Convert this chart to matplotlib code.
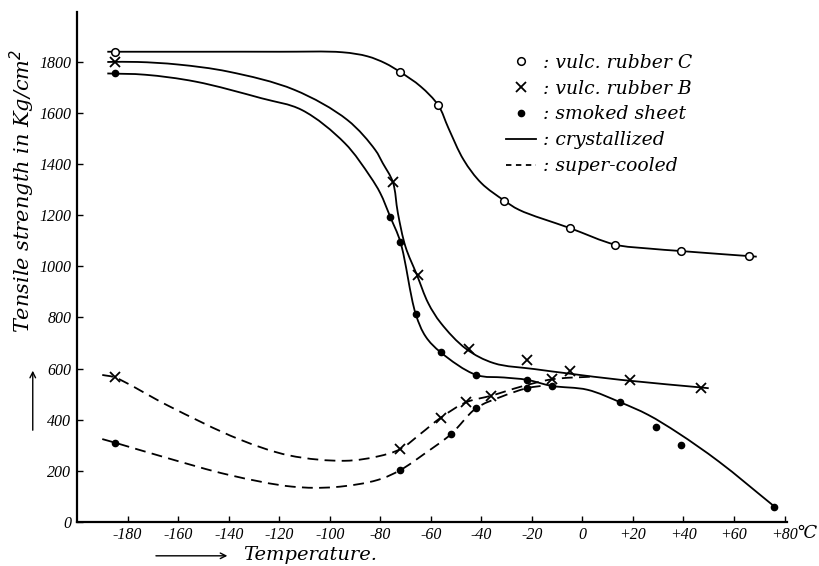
import matplotlib
matplotlib.use("Agg")
import matplotlib.pyplot as plt
import numpy as np
from matplotlib.lines import Line2D
from matplotlib.path import Path
from matplotlib.patches import PathPatch, FancyArrowPatch

# measured points (temperature in C, tensile strength in kg/cm2)
c_t = [-185, -72, -57, -31, -5, 13, 39, 66]
c_v = [1840, 1760, 1630, 1255, 1150, 1085, 1060, 1040]

b_t = [-185, -75, -65, -45, -22, -5, 19, 47]
b_v = [1800, 1330, 965, 675, 635, 590, 555, 525]

s_t = [-185, -76, -72, -66, -56, -42, -22, -12, 15, 29, 39, 76]
s_v = [1755, 1195, 1095, 815, 663, 575, 556, 532, 468, 373, 299, 60]

b_sc_t = [-185, -72, -56, -46, -36, -12]
b_sc_v = [565, 285, 408, 470, 493, 558]

s_sc_t = [-185, -72, -52, -42, -22]
s_sc_v = [310, 203, 343, 445, 523]

# hand drawn curves
c_line_t = [-188, -150, -120, -95, -85, -78, -72, -64, -57, -53, -47, -40, -31, -25, -5, 13, 26, 39, 55, 69]
c_line_v = [1840, 1840, 1840, 1838, 1822, 1795, 1760, 1704, 1630, 1541, 1417, 1326, 1258, 1221, 1150, 1085, 1070, 1060, 1048, 1038]

b_line_t = [-188, -176, -160, -140, -114, -93, -82, -79, -75, -73, -70, -65.5, -61, -56, -46, -35, -19, -5, 15, 47, 50]
b_line_v = [1800, 1800, 1790, 1762, 1691, 1573, 1456, 1404, 1330, 1208, 1077, 967, 856, 778, 677, 621, 598, 580, 556, 526, 523]

s_line_t = [-188, -173, -153, -127, -111, -94, -84, -80, -76, -72, -66, -62, -56, -42, -31, -22, -12, 2, 15, 26, 38, 54, 76]
s_line_v = [1755, 1750, 1723, 1658, 1612, 1482, 1352, 1287, 1193, 1095, 815, 725, 663, 575, 565, 556, 532, 517, 468, 419, 347, 236, 60]

b_sc_line_t = [-190, -185, -164, -136, -116, -94, -81, -72, -64, -56, -46, -36, -24, -12, 5]
b_sc_line_v = [575, 565, 455, 324, 260, 239, 256, 285, 345, 408, 468, 494, 530, 558, 569]

s_sc_line_t = [-190, -185, -164, -140, -115, -98, -81, -72, -62, -52, -42, -32, -22, -14]
s_sc_line_v = [324, 310, 249, 184, 138, 136, 164, 203, 270, 343, 445, 490, 523, 535]

x_ticks = [-180, -160, -140, -120, -100, -80, -60, -40, -20, 0, 20, 40, 60, 80]
x_labels = ['-180', '-160', '-140', '-120', '-100', '-80', '-60', '-40', '-20', '0', '+20', '+40', '+60', '+80']
y_ticks = [0, 200, 400, 600, 800, 1000, 1200, 1400, 1600, 1800]

# rough pixels per unit, only used to space the spline knots evenly on screen
SX, SY = 2.53, 0.2555


def smooth_path(t, v):
    # centripetal catmull-rom through the read points, as bezier segments
    p = np.column_stack([np.asarray(t, float) * SX, np.asarray(v, float) * SY])
    p = np.vstack([2 * p[0] - p[1], p, 2 * p[-1] - p[-2]])
    verts = [p[1]]
    codes = [Path.MOVETO]
    for i in range(1, len(p) - 2):
        p0, p1, p2, p3 = p[i - 1], p[i], p[i + 1], p[i + 2]
        d1 = np.linalg.norm(p1 - p0) ** 0.5
        d2 = np.linalg.norm(p2 - p1) ** 0.5
        d3 = np.linalg.norm(p3 - p2) ** 0.5
        b1 = (d1 ** 2 * p2 - d2 ** 2 * p0 + (2 * d1 ** 2 + 3 * d1 * d2 + d2 ** 2) * p1) / (3 * d1 * (d1 + d2))
        b2 = (d3 ** 2 * p1 - d2 ** 2 * p3 + (2 * d3 ** 2 + 3 * d3 * d2 + d2 ** 2) * p2) / (3 * d3 * (d3 + d2))
        verts += [b1, b2, p2]
        codes += [Path.CURVE4] * 3
    verts = np.array(verts) / [SX, SY]
    return Path(verts, codes)


plt.rcParams['font.family'] = ['Liberation Serif', 'DejaVu Serif']
plt.rcParams['font.style'] = 'italic'
label_font = ['DejaVu Serif']

fig = plt.figure(figsize=(8.19, 5.66), dpi=100)
ax = fig.add_axes([0.094, 0.078, 0.867, 0.901])

lw = 1.3
dash = (6, 3.5)
for t, v in [(c_line_t, c_line_v), (b_line_t, b_line_v), (s_line_t, s_line_v)]:
    ax.add_patch(PathPatch(smooth_path(t, v), fill=False, ec='black', lw=lw))
for t, v in [(b_sc_line_t, b_sc_line_v), (s_sc_line_t, s_sc_line_v)]:
    ax.add_patch(PathPatch(smooth_path(t, v), fill=False, ec='black', lw=lw, ls=(0, dash)))

ax.plot(c_t, c_v, 'o', ls='none', mfc='white', mec='black', ms=5.5, mew=1.1)
ax.plot(b_t, b_v, 'x', ls='none', color='black', ms=7, mew=1.3)
ax.plot(s_t, s_v, 'o', ls='none', color='black', ms=4.5)
ax.plot(b_sc_t, b_sc_v, 'x', ls='none', color='black', ms=7, mew=1.3)
ax.plot(s_sc_t, s_sc_v, 'o', ls='none', color='black', ms=4.5)

ax.set_xlim(-200, 81)
ax.set_ylim(0, 1996)
ax.spines['top'].set_visible(False)
ax.spines['right'].set_visible(False)
ax.spines['left'].set_linewidth(1.6)
ax.spines['bottom'].set_linewidth(1.6)
ax.set_xticks(x_ticks)
ax.set_xticklabels(x_labels)
ax.set_yticks(y_ticks)
ax.tick_params(direction='in', length=4, width=1, labelsize=11.5, pad=4)

ax.set_ylabel('Tensile strength in Kg/cm$^2$', fontsize=15, family=label_font)
ax.yaxis.set_label_coords(-0.056, 0.65)
fig.text(0.984, 0.057, '\u2103', fontsize=13, ha='center', va='center')
fig.text(0.297, 0.004, 'Temperature.', fontsize=14, ha='left', va='bottom', family=label_font)
fig.add_artist(FancyArrowPatch((0.187, 0.018), (0.281, 0.018), transform=fig.transFigure,
                               arrowstyle='->', mutation_scale=10, color='black', lw=1))
fig.add_artist(FancyArrowPatch((0.040, 0.235), (0.040, 0.350), transform=fig.transFigure,
                               arrowstyle='->', mutation_scale=10, color='black', lw=1))

handles = [
    Line2D([], [], ls='none', marker='o', mfc='white', mec='black', ms=5.5, mew=1.1),
    Line2D([], [], ls='none', marker='x', color='black', ms=7, mew=1.3),
    Line2D([], [], ls='none', marker='o', color='black', ms=4.5),
    Line2D([], [], color='black', lw=lw),
    Line2D([], [], color='black', lw=lw, dashes=(3, 2.5)),
]
labels = [': vulc. rubber C', ': vulc. rubber B', ': smoked sheet', ': crystallized', ': super-cooled']
ax.legend(handles, labels, loc='upper left', bbox_to_anchor=(0.597, 0.935), bbox_transform=fig.transFigure,
          frameon=False, prop={'family': label_font, 'size': 13.5, 'style': 'italic'},
          handlelength=1.6, handletextpad=0.4, labelspacing=0.42)

fig.savefig('out.png', dpi=100)
